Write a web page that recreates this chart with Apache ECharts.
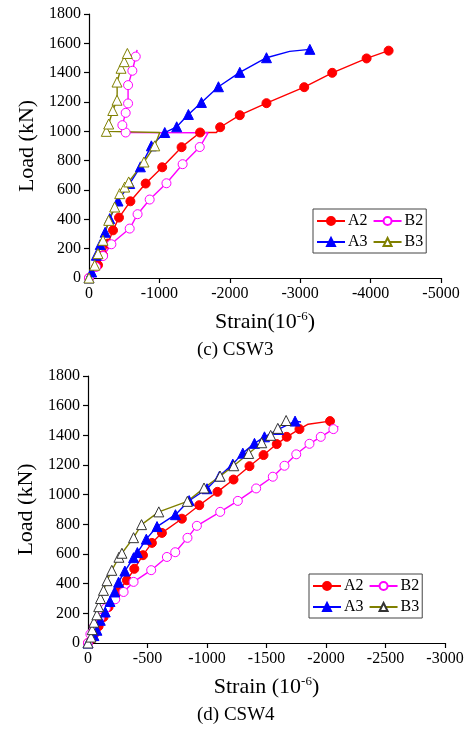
<!DOCTYPE html>
<html>
<head>
<meta charset="utf-8">
<script src="https://cdn.jsdelivr.net/npm/echarts@6/dist/echarts.min.js"></script>
<style>
  html, body { margin: 0; padding: 0; background: #fff; }
  #csw3 { width: 470px; height: 365px; }
  #csw4 { width: 470px; height: 368px; }
</style>
</head>
<body>
<div id="csw3"></div>
<div id="csw4"></div>
<script>
// strain (10^-6), load (kN); a third value 0 = reading drawn without a marker
var csw3A2 = [[0,0],[-128,88],[-200,155],[-270,235],[-341,325],[-426,412],[-588,523],[-805,644],[-1040,755],[-1315,892],[-1578,992],[-1810,992,0],[-1863,1028],[-2142,1110],[-2521,1192],[-3057,1301],[-3455,1399],[-3943,1497],[-4256,1550]];
var csw3B2 = [[0,0],[-100,75],[-200,150],[-318,230],[-390,262,0],[-578,337],[-690,435],[-862,535],[-1100,646],[-1330,776],[-1573,893],[-1692,990,0],[-521,992],[-474,1042],[-521,1126],[-555,1190],[-555,1315],[-616,1413],[-664,1510],[-683,1555,0]];
var csw3A3 = [[0,0],[-38,41],[-104,155],[-160,228],[-230,312],[-294,405],[-412,525],[-578,644],[-730,758],[-886,901],[-1076,992],[-1246,1031],[-1412,1115],[-1597,1197],[-1839,1304],[-2142,1402],[-2521,1502],[-2850,1545,0],[-3137,1559]];
var csw3B3 = [[0,0],[-81,87],[-128,166],[-199,257],[-280,393],[-365,484],[-436,575],[-507,620],[-564,655],[-781,791],[-934,901],[-1005,992,0],[-246,1000],[-280,1050],[-338,1142],[-398,1212],[-400,1270,0],[-398,1336],[-455,1430],[-500,1475],[-545,1531]];

var csw4A2 = [[0,0],[-34,30],[-55,63],[-89,113],[-131,175],[-173,243],[-224,300],[-257,351],[-327,423],[-389,500],[-462,592],[-537,675],[-621,742],[-789,838],[-935,929],[-1088,1019],[-1223,1102],[-1357,1192],[-1475,1267],[-1586,1341],[-1670,1390],[-1777,1442],[-1850,1475,0],[-2034,1496]];
var csw4B2 = [[0,0],[-20,60],[-50,110],[-100,170],[-150,235],[-229,295],[-299,344],[-383,412],[-531,491],[-663,580],[-733,612],[-836,709],[-915,790],[-1111,884],[-1259,958],[-1413,1042],[-1553,1121],[-1651,1195],[-1750,1272],[-1861,1343],[-1956,1390],[-2062,1442],[-2104,1460,0]];
var csw4A3 = [[0,0],[-50,50],[-75,86],[-103,153],[-145,209],[-185,280],[-224,344],[-257,410],[-310,485],[-383,575],[-415,610],[-490,700],[-580,785],[-735,865],[-850,960],[-1000,1040],[-1105,1125],[-1217,1206],[-1301,1280],[-1399,1346],[-1483,1390],[-1600,1440],[-1740,1496],[-1790,1490,0]];
var csw4B3 = [[0,0],[-25,40],[-35,90],[-50,140],[-75,190],[-90,245],[-105,300],[-130,355],[-160,420],[-200,490],[-260,578],[-285,605],[-383,710],[-450,798],[-595,884],[-835,955],[-975,1045],[-1110,1125],[-1225,1195],[-1350,1278],[-1460,1350],[-1535,1400],[-1595,1447],[-1665,1500]];

var seriesNames = ['A2', 'B2', 'A3', 'B3'];
var loadTicks = [0, 1800, 200];   // min, max, step
var csw3StrainTicks = [-5000, 0, 1000];
var csw4StrainTicks = [-3000, 0, 500];

var FONT = "'Liberation Serif', 'Times New Roman', serif";

function pts(arr) {
  return arr.map(function (p) {
    if (p.length > 2) return { value: [p[0], p[1]], symbol: 'none' };
    return [p[0], p[1]];
  });
}

function plain(v) { return String(v); }

function makeSeries(name, data, color, symbol, open, border) {
  return {
    name: name,
    type: 'line',
    data: pts(data),
    symbol: symbol,
    symbolSize: symbol === 'circle' ? 9 : 10,
    showAllSymbol: true,
    animation: false,
    lineStyle: { color: color, width: 1.4 },
    itemStyle: open
      ? { color: '#fff', borderColor: border || color, borderWidth: 1 }
      : { color: color, borderColor: color, borderWidth: 1 }
  };
}

function drawChart(el, cfg) {
  var chart = echarts.init(document.getElementById(el));
  var option = {
    backgroundColor: '#fff',
    animation: false,
    grid: { left: cfg.grid[0], top: cfg.grid[1], width: cfg.grid[2], height: cfg.grid[3] },
    legend: {
      data: seriesNames,
      left: cfg.legendPos[0],
      top: cfg.legendPos[1],
      width: 112,
      orient: 'horizontal',
      itemWidth: 28,
      itemHeight: 10,
      itemGap: 5,
      padding: [4, 3, 3, 3],
      borderColor: '#444',
      borderWidth: 1,
      backgroundColor: '#fff',
      textStyle: { fontFamily: FONT, fontSize: 16, color: '#000', padding: [0, 0, 0, -2] }
    },
    xAxis: {
      type: 'value',
      inverse: true,
      min: cfg.xTicks[0],
      max: cfg.xTicks[1],
      interval: cfg.xTicks[2],
      name: cfg.xName,
      nameLocation: 'middle',
      nameGap: 32,
      nameTextStyle: {
        fontFamily: FONT, fontSize: 22, color: '#000',
        rich: {
          t: { fontFamily: FONT, fontSize: 22, color: '#000' },
          sup: { fontFamily: FONT, fontSize: 13, color: '#000', verticalAlign: 'bottom', padding: [0, 0, 12, 0] }
        }
      },
      axisLine: { lineStyle: { color: '#000', width: 1.2 } },
      axisTick: { inside: false, length: 5, lineStyle: { color: '#000', width: 1.2 } },
      axisLabel: { fontFamily: FONT, fontSize: 16, color: '#000', margin: 8, formatter: plain },
      splitLine: { show: false }
    },
    yAxis: {
      type: 'value',
      min: loadTicks[0],
      max: loadTicks[1],
      interval: loadTicks[2],
      name: 'Load (kN)',
      nameLocation: 'middle',
      nameGap: cfg.yNameGap,
      nameTextStyle: { fontFamily: FONT, fontSize: 22, color: '#000' },
      axisLine: { show: true, lineStyle: { color: '#000', width: 1.2 } },
      axisTick: { show: true, inside: false, length: 5, lineStyle: { color: '#000', width: 1.2 } },
      axisLabel: { fontFamily: FONT, fontSize: 16, color: '#000', margin: 8, formatter: plain },
      splitLine: { show: false }
    },
    graphic: [{
      type: 'text',
      left: cfg.caption[1],
      top: cfg.caption[2],
      style: { text: cfg.caption[0], font: '19px ' + FONT, fill: '#000' }
    }],
    series: [
      makeSeries('A2', cfg.data[0], '#ff0000', 'circle', false),
      makeSeries('B2', cfg.data[1], '#ff00ff', 'circle', true),
      makeSeries('A3', cfg.data[2], '#0000ff', 'triangle', false),
      makeSeries('B3', cfg.data[3], '#808000', 'triangle', true, cfg.b3Border)
    ]
  };
  chart.setOption(option);
  return chart;
}

drawChart('csw3', {
  grid: [89, 14, 352, 264],
  legendPos: [313, 209],
  xTicks: csw3StrainTicks,
  xName: '{t|Strain(10}{sup|-6}{t|)}',
  yNameGap: 48,
  caption: ['(c) CSW3', 197, 341],
  b3Border: '#808000',
  data: [csw3A2, csw3B2, csw3A3, csw3B3]
});

drawChart('csw4', {
  grid: [88, 11, 357, 267],
  legendPos: [309, 209],
  xTicks: csw4StrainTicks,
  xName: '{t|Strain (10}{sup|-6}{t|)}',
  yNameGap: 50,
  caption: ['(d) CSW4', 197, 341],
  b3Border: '#333',
  data: [csw4A2, csw4B2, csw4A3, csw4B3]
});
</script>
</body>
</html>
